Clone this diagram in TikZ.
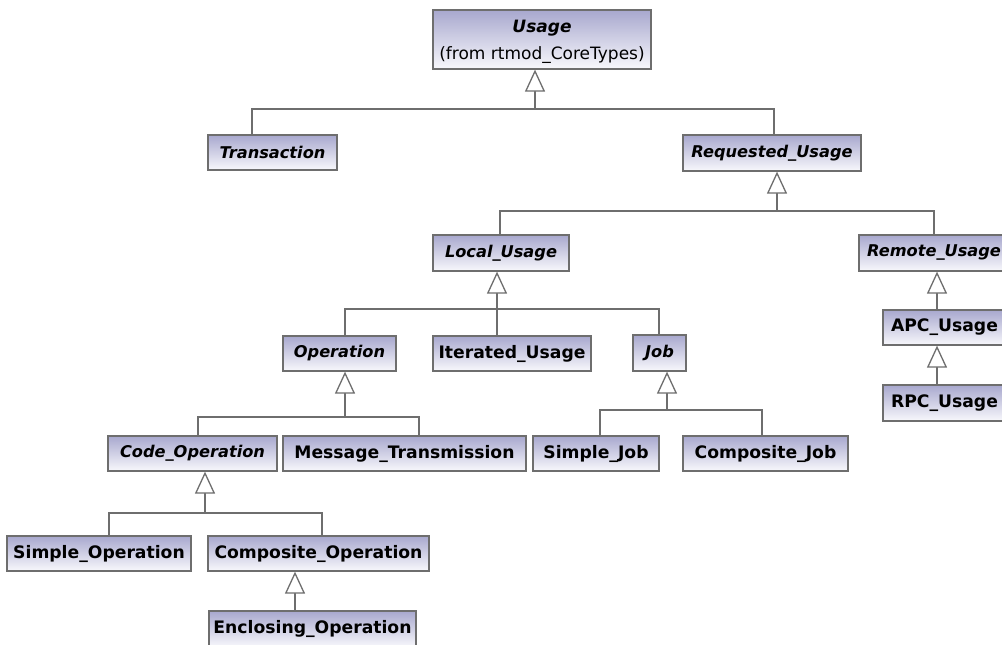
\documentclass[tikz,border=0pt]{standalone}
\usepackage{fontspec}
\setmainfont{DejaVu Sans}
\usetikzlibrary{arrows.meta}
\definecolor{clsTop}{RGB}{168,168,206}
\definecolor{clsBot}{RGB}{248,248,252}
\definecolor{lineGray}{RGB}{110,110,110}
\begin{document}
\begin{tikzpicture}[x=1pt,y=-1pt,
  cls/.style={draw=lineGray, line width=1.3pt, top color=clsTop, bottom color=clsBot,
    inner sep=0pt, font=\fontsize{17.2}{18}\selectfont\bfseries},
  abscls/.style={cls, font=\fontsize{16.2}{18}\selectfont\bfseries\itshape},
  conn/.style={draw=lineGray, line width=1.3pt},
  gen/.style={conn, -{Triangle[length=22pt,width=20pt,fill=white]}}
]
\useasboundingbox (0,0) rectangle (1002,645);
\fill[white] (0,0) rectangle (1002,645);
\clip (0,0) rectangle (1002,645);

% classes
\node[cls, align=center, minimum width=218pt, minimum height=59pt,
      font=\fontsize{17}{27}\selectfont] (usage) at (542,39.5)
  {\rule{0pt}{17pt}\bfseries\itshape Usage\\(from rtmod\_CoreTypes)};
\node[abscls, minimum width=129pt, minimum height=35pt] (trans) at (272.5,152.5) {Transaction};
\node[abscls, minimum width=178pt, minimum height=36pt] (requ) at (772,153) {Requested\_Usage};
\node[abscls, minimum width=136pt, minimum height=36pt] (local) at (501,253) {Local\_Usage};
\node[abscls, minimum width=150pt, minimum height=36pt] (remote) at (934,253) {Remote\_Usage};
\node[abscls, minimum width=113pt, minimum height=35pt] (oper) at (339.5,353.5) {Operation};
\node[cls, minimum width=158pt, minimum height=35pt] (iter) at (512,353.5) {Iterated\_Usage};
\node[abscls, minimum width=53pt, minimum height=36pt] (job) at (659.5,353) {Job};
\node[cls, minimum width=123pt, minimum height=35pt] (apc) at (944.5,327.5) {APC\_Usage};
\node[cls, minimum width=123pt, minimum height=36pt] (rpc) at (944.5,403) {RPC\_Usage};
\node[abscls, minimum width=169pt, minimum height=35pt] (code) at (192.5,453.5) {Code\_Operation};
\node[cls, minimum width=243pt, minimum height=35pt] (msg) at (404.5,453.5) {Message\_Transmission};
\node[cls, minimum width=126pt, minimum height=35pt] (sjob) at (596,453.5) {Simple\_Job};
\node[cls, minimum width=165pt, minimum height=35pt] (cjob) at (765.5,453.5) {Composite\_Job};
\node[cls, minimum width=184pt, minimum height=35pt] (sop) at (99,553.5) {Simple\_Operation};
\node[cls, minimum width=221pt, minimum height=35pt] (cop) at (318.5,553.5) {Composite\_Operation};
\node[cls, minimum width=207pt, minimum height=36pt] (enc) at (312.5,629) {Enclosing\_Operation};

% group: Usage <- Transaction, Requested_Usage
\coordinate (b1l) at (252,109);
\coordinate (b1m) at (535,109);
\coordinate (b1r) at (774,109);
\draw[conn] (b1l |- trans.north) -- (b1l) -- (b1r) -- (b1r |- requ.north);
\draw[gen] (b1m) -- (b1m |- usage.south);

% group: Requested_Usage <- Local_Usage, Remote_Usage
\coordinate (b2l) at (500,211);
\coordinate (b2m) at (777,211);
\coordinate (b2r) at (934,211);
\draw[conn] (b2l |- local.north) -- (b2l) -- (b2r) -- (b2r |- remote.north);
\draw[gen] (b2m) -- (b2m |- requ.south);

% group: Local_Usage <- Operation, Iterated_Usage, Job
\coordinate (b3l) at (345,309);
\coordinate (b3m) at (497,309);
\coordinate (b3r) at (659,309);
\draw[conn] (b3l |- oper.north) -- (b3l) -- (b3r) -- (b3r |- job.north);
\draw[conn] (b3m |- iter.north) -- (b3m);
\draw[gen] (b3m) -- (b3m |- local.south);

% group: Operation <- Code_Operation, Message_Transmission
\coordinate (b4l) at (198,417);
\coordinate (b4m) at (345,417);
\coordinate (b4r) at (419,417);
\draw[conn] (b4l |- code.north) -- (b4l) -- (b4r) -- (b4r |- msg.north);
\draw[gen] (b4m) -- (b4m |- oper.south);

% group: Job <- Simple_Job, Composite_Job
\coordinate (b5l) at (600,410);
\coordinate (b5m) at (667,410);
\coordinate (b5r) at (762,410);
\draw[conn] (b5l |- sjob.north) -- (b5l) -- (b5r) -- (b5r |- cjob.north);
\draw[gen] (b5m) -- (b5m |- job.south);

% group: Code_Operation <- Simple_Operation, Composite_Operation
\coordinate (b6l) at (109,513);
\coordinate (b6m) at (205,513);
\coordinate (b6r) at (322,513);
\draw[conn] (b6l |- sop.north) -- (b6l) -- (b6r) -- (b6r |- cop.north);
\draw[gen] (b6m) -- (b6m |- code.south);

% Composite_Operation <- Enclosing_Operation
\coordinate (b7) at (295,600);
\draw[gen] (b7 |- enc.north) -- (b7 |- cop.south);

% Remote_Usage <- APC_Usage <- RPC_Usage
\coordinate (b8) at (937,300);
\draw[gen] (b8 |- apc.north) -- (b8 |- remote.south);
\draw[gen] (b8 |- rpc.north) -- (b8 |- apc.south);
\end{tikzpicture}
\end{document}
